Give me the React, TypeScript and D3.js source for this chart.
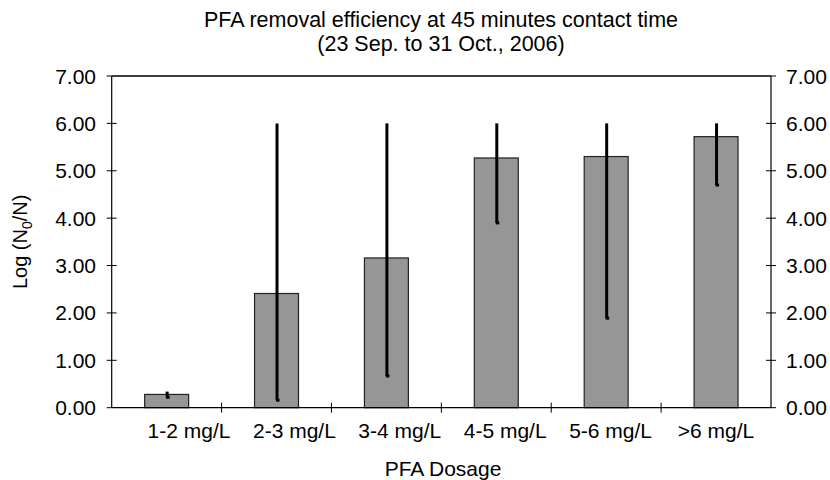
import React from "react";
import * as d3 from "d3";

const categories = ["1-2 mg/L", "2-3 mg/L", "3-4 mg/L", "4-5 mg/L", "5-6 mg/L", ">6 mg/L"];
const means = [0.28, 2.41, 3.16, 5.27, 5.3, 5.72];
const errLow = [0.22, 0.16, 0.67, 3.9, 1.89, 4.7];
const errHigh = [0.34, 6.0, 6.0, 6.0, 6.0, 6.0];
const yTicks = [0, 1, 2, 3, 4, 5, 6, 7];

const W = 830;
const H = 480;
const left = 111.7;
const right = 771;
const top = 76;
const bottom = 407.7;
const FONT = "'Liberation Sans', Arial, sans-serif";

export default function App() {
  const x = d3.scaleBand<string>().domain(categories).range([left, right]).paddingInner(0.6).paddingOuter(0.3);
  const xOuter = d3.scaleBand<string>().domain(categories).range([left, right]);
  const xLabel = d3.scalePoint<string>().domain(categories).range([189, 716]);
  const y = d3.scaleLinear().domain([0, 7]).range([bottom, top]);
  const fmt = d3.format(".2f");
  const catTicks = categories.slice(0, -1).map((c) => (xOuter(c) as number) + xOuter.bandwidth());

  return (
    <svg width={W} height={H} style={{ position: "absolute", left: 0, top: 0, background: "#fff" }} fontFamily={FONT}>
      <rect x={0} y={0} width={W} height={H} fill="#fff" />
      {/* title */}
      <text x={441} y={27} textAnchor="middle" fontSize={21.5} fill="#000">
        PFA removal efficiency at 45 minutes contact time
      </text>
      <text x={441} y={51} textAnchor="middle" fontSize={21.5} fill="#000">
        (23 Sep. to 31 Oct., 2006)
      </text>

      {/* bars */}
      {categories.map((c, i) => (
        <rect
          key={c}
          x={x(c)}
          y={y(means[i])}
          width={x.bandwidth()}
          height={y(0) - y(means[i])}
          fill="#969696"
          stroke="#222"
          strokeWidth={1.2}
        />
      ))}

      {/* error bars */}
      {categories.map((c, i) => {
        const cx = (x(c) as number) + x.bandwidth() / 2 + 0.5;
        return (
          <g key={"e" + c}>
            <line x1={cx} x2={cx} y1={y(errHigh[i])} y2={y(errLow[i])} stroke="#000" strokeWidth={3} />
            <rect x={cx - 1} y={y(errLow[i]) - 1.5} width={3.5} height={3} fill="#000" />
          </g>
        );
      })}

      {/* frame: top line */}
      <line x1={left} x2={right} y1={top} y2={top} stroke="#000" strokeWidth={1.3} />
      {/* axes */}
      <line x1={left} x2={left} y1={top} y2={bottom} stroke="#000" strokeWidth={1.2} />
      <line x1={right} x2={right} y1={top} y2={bottom} stroke="#000" strokeWidth={1.2} />
      <line x1={left} x2={right} y1={bottom} y2={bottom} stroke="#000" strokeWidth={1.2} />

      {/* y ticks left and right */}
      {yTicks.map((t) => (
        <g key={"yt" + t}>
          <line x1={left - 5} x2={t === 7 || t === 0 ? left : left + 5} y1={y(t)} y2={y(t)} stroke="#000" strokeWidth={1} />
          <line x1={t === 7 || t === 0 ? right : right - 5} x2={right + 5} y1={y(t)} y2={y(t)} stroke="#000" strokeWidth={1} />
          <text x={96} y={y(t)} dy="0.36em" textAnchor="end" fontSize={21} fill="#000">
            {fmt(t)}
          </text>
          <text x={786} y={y(t)} dy="0.36em" textAnchor="start" fontSize={21} fill="#000">
            {fmt(t)}
          </text>
        </g>
      ))}

      {/* x ticks */}
      {catTicks.map((tx, i) => (
        <line key={"xt" + i} x1={tx} x2={tx} y1={bottom - 5} y2={bottom + 5} stroke="#000" strokeWidth={1} />
      ))}

      {/* category labels */}
      {categories.map((c) => (
        <text key={"l" + c} x={xLabel(c)} y={438} textAnchor="middle" fontSize={21} fill="#000">
          {c}
        </text>
      ))}

      {/* axis titles */}
      <text x={443} y={476} textAnchor="middle" fontSize={21} fill="#000">
        PFA Dosage
      </text>
      <text transform={`translate(27,${(top + bottom) / 2}) rotate(-90)`} textAnchor="middle" fontSize={20} fill="#000">
        Log (N
        <tspan fontSize={14} dy="5">0</tspan>
        <tspan dy="-5">/N)</tspan>
      </text>
    </svg>
  );
}
